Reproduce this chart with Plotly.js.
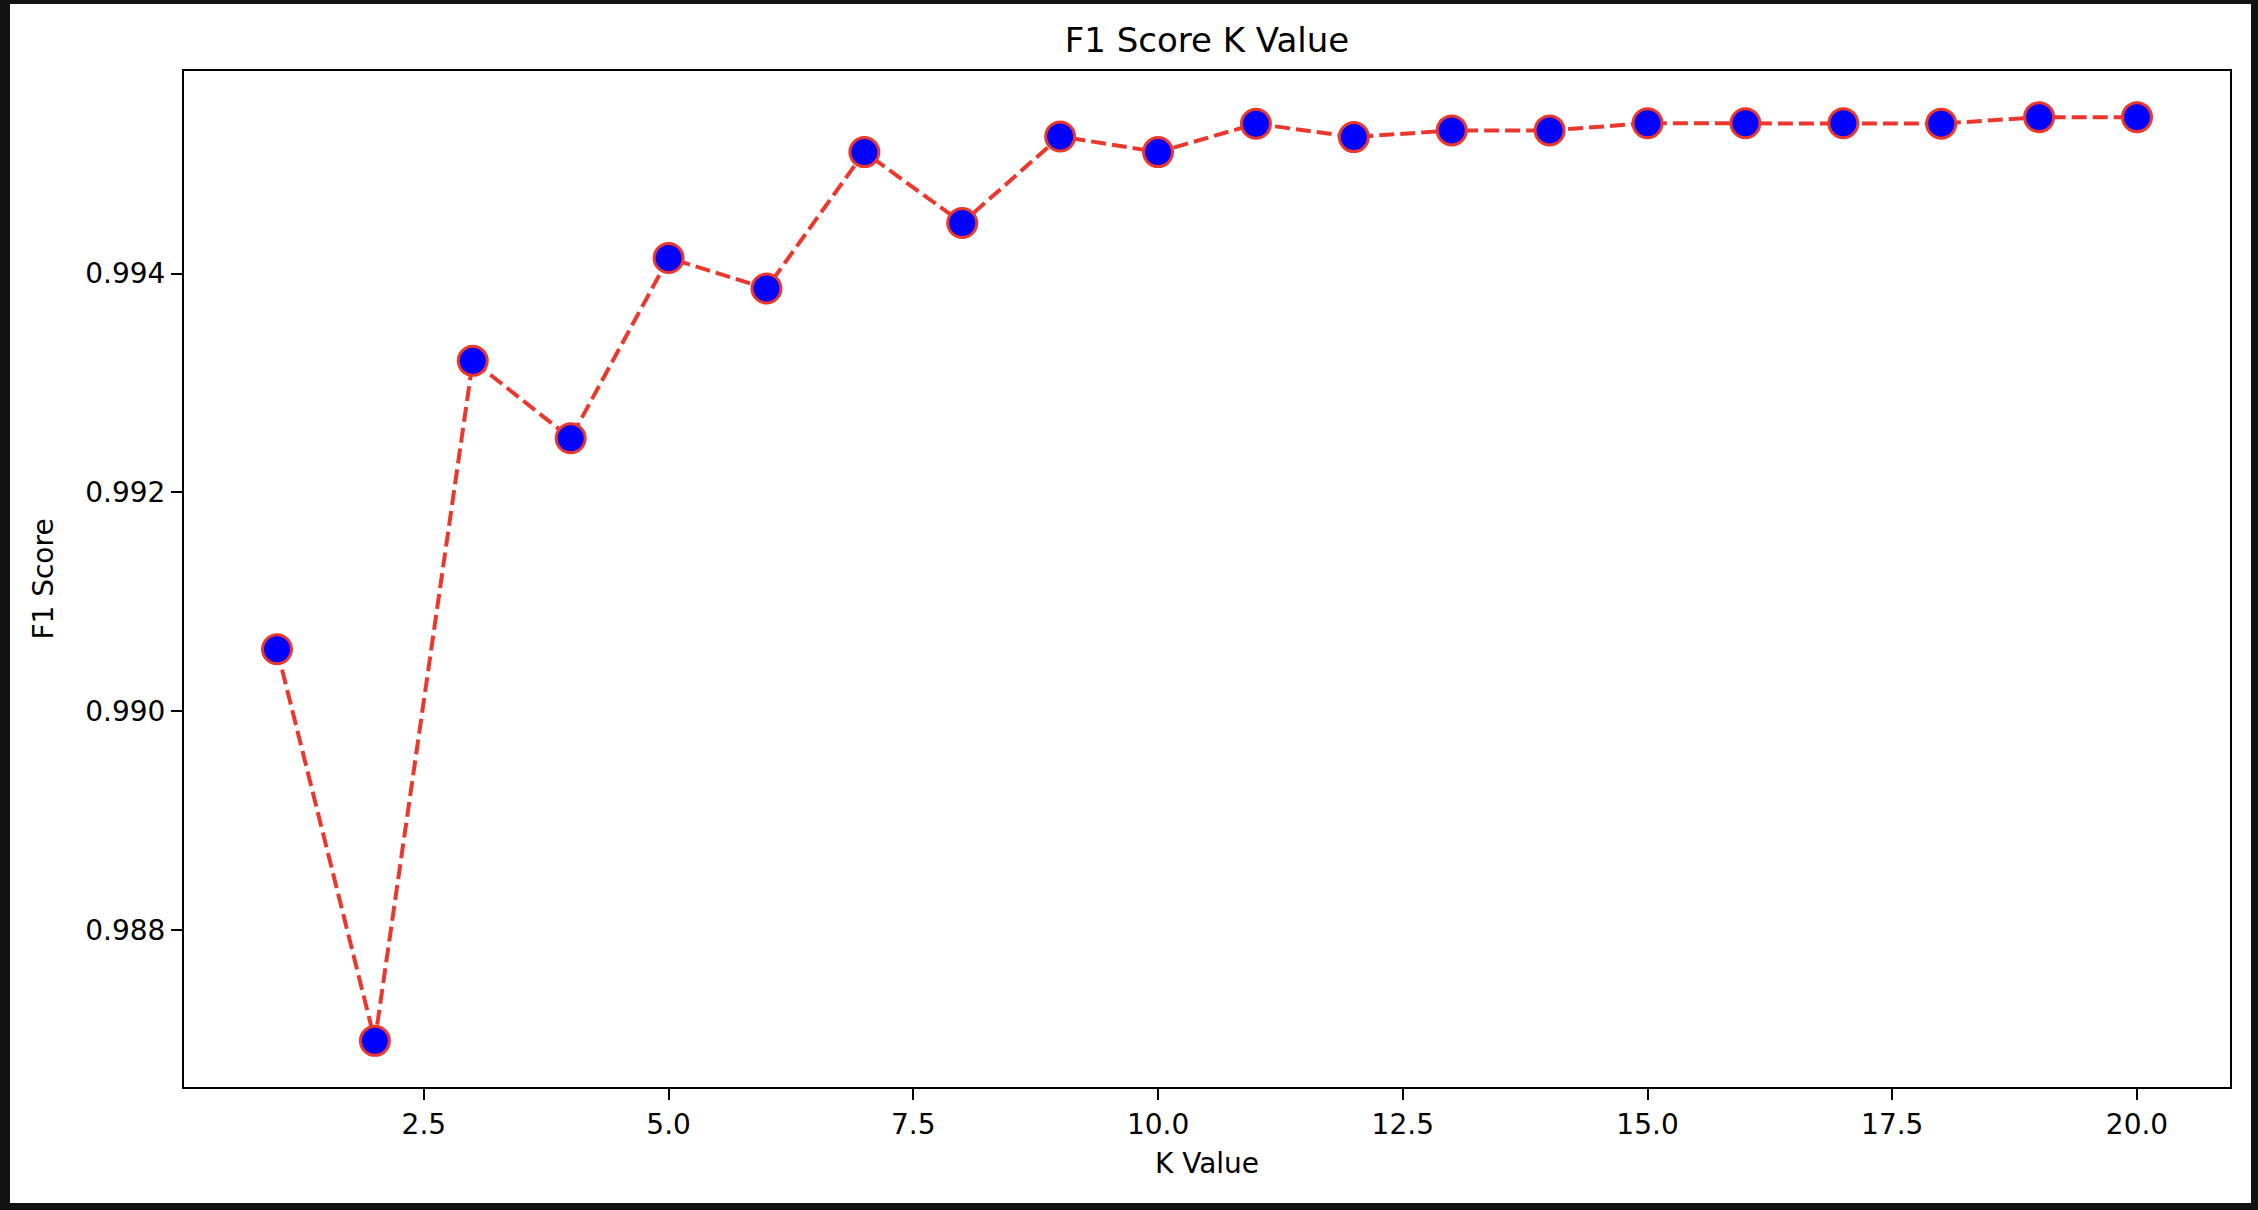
<!DOCTYPE html>
<html>
<head>
<meta charset="utf-8">
<script src="https://cdn.plot.ly/plotly-3.0.1.min.js"></script>
<style>
  html, body { margin: 0; padding: 0; background: #121212; width: 2258px; height: 1210px; overflow: hidden; }
  #chart { position: absolute; left: 10px; top: 4px; width: 2241px; height: 1199px; background: #fff; }
</style>
</head>
<body>
<div id="chart"></div>
<script>
// ---- data ----
const kValues = [1, 2, 3, 4, 5, 6, 7, 8, 9, 10, 11, 12, 13, 14, 15, 16, 17, 18, 19, 20];
const f1Scores = [0.990566, 0.986987, 0.993202, 0.992494, 0.994142, 0.993863, 0.995110, 0.994462,
                  0.995253, 0.995110, 0.995369, 0.995247, 0.995308, 0.995308, 0.995374, 0.995374,
                  0.995374, 0.995370, 0.995429, 0.995429];
const xTickVals = [2.5, 5.0, 7.5, 10.0, 12.5, 15.0, 17.5, 20.0];
const yTickVals = [0.988, 0.990, 0.992, 0.994];
const chartTitle = "F1 Score K Value";
const xTitle = "K Value";
const yTitle = "F1 Score";

// matplotlib-like 5% margins
function padRange(arr) {
  const lo = Math.min(...arr), hi = Math.max(...arr);
  const p = (hi - lo) * 0.05;
  return [lo - p, hi + p];
}

const red = "rgb(236,56,44)";
const font = { family: "DejaVu Sans", size: 28, color: "#000" };

const trace = {
  x: kValues,
  y: f1Scores,
  type: "scatter",
  mode: "lines+markers",
  line: { color: red, width: 4, dash: "15px,6px" },
  marker: { size: 29, color: "#0000ff", line: { color: red, width: 3 } },
  hoverinfo: "skip"
};

const axisCommon = {
  showline: true, mirror: true, linecolor: "#000", linewidth: 2,
  ticks: "outside", ticklen: 11, tickwidth: 2, tickcolor: "#000",
  showgrid: false, zeroline: false, tickfont: font
};

const layout = {
  width: 2241, height: 1199,
  paper_bgcolor: "#fff", plot_bgcolor: "#fff",
  margin: { l: 174, r: 21, t: 67, b: 116 },
  showlegend: false,
  font: font,
  title: {
    text: chartTitle,
    font: { family: "DejaVu Sans", size: 34, color: "#000" },
    x: 0.5, xref: "paper", xanchor: "center",
    y: 1 - 36 / 1199, yref: "container", yanchor: "middle"
  },
  xaxis: Object.assign({}, axisCommon, {
    range: padRange(kValues),
    tickmode: "array", tickvals: xTickVals,
    ticktext: xTickVals.map(v => v.toFixed(1)),
    title: { text: xTitle, font: font, standoff: 14 }
  }),
  yaxis: Object.assign({}, axisCommon, {
    range: padRange(f1Scores),
    tickmode: "array", tickvals: yTickVals,
    ticktext: yTickVals.map(v => v.toFixed(3)),
    title: { text: yTitle, font: font, standoff: 23 }
  })
};

Plotly.newPlot("chart", [trace], layout, { displayModeBar: false, staticPlot: true });
</script>
</body>
</html>
